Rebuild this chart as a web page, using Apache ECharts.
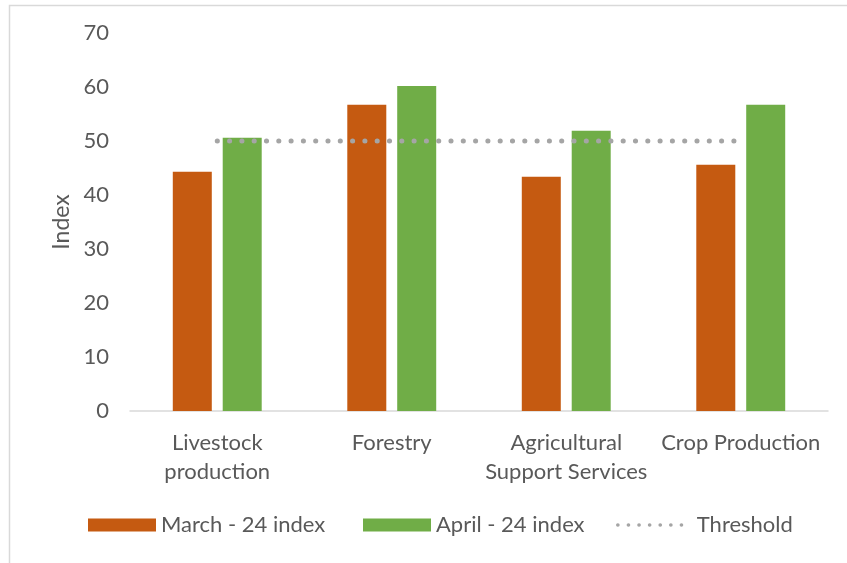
<!DOCTYPE html>
<html>
<head>
<meta charset="utf-8">
<script src="https://cdn.jsdelivr.net/npm/echarts@6/dist/echarts.min.js"></script>
<style>
  html, body { margin: 0; padding: 0; background: #fff; }
  #chart { width: 847px; height: 563px; }
</style>
</head>
<body>
<div id="chart"></div>
<script>
// Sector labels (line breaks are part of the axis text)
const categories = ['Livestock\nproduction', 'Forestry', 'Agricultural\nSupport Services', 'Crop Production'];
const marchIndex = [44.3, 56.7, 43.4, 45.6];
const aprilIndex = [50.6, 60.2, 51.9, 56.7];
const threshold = [50, 50, 50, 50];
const seriesNames = ['March - 24 index', 'April - 24 index', 'Threshold'];
const yTicks = { min: 0, max: 70, step: 10 };

const FONT = 'Lato';
const FS = 22;
const TEXT = '#595959';
const ORANGE = '#c55a11';
const GREEN = '#70ad47';
const GREY = '#a5a5a5';

const chart = echarts.init(document.getElementById('chart'), null, { renderer: 'canvas' });

const legendBase = {
  top: 514,
  padding: 0,
  itemWidth: 68,
  itemHeight: 13,
  textStyle: { fontFamily: FONT, fontSize: FS, color: TEXT }
};

chart.setOption({
  animation: false,
  backgroundColor: '#ffffff',
  textStyle: { fontFamily: FONT, color: TEXT },
  graphic: [{
    type: 'rect',
    shape: { x: 9.5, y: 5.5, width: 900, height: 700 },
    style: { fill: 'none', stroke: '#d9d9d9', lineWidth: 1.5 },
    silent: true
  }],
  grid: { left: 130, right: 19, top: 33, bottom: 152, containLabel: false },
  legend: [
    Object.assign({}, legendBase, {
      left: 88,
      data: [{ name: seriesNames[0], icon: 'rect' }]
    }),
    Object.assign({}, legendBase, {
      left: 363,
      data: [{ name: seriesNames[1], icon: 'rect' }]
    }),
    Object.assign({}, legendBase, {
      left: 616,
      textStyle: { fontFamily: FONT, fontSize: FS, color: TEXT, padding: [0, 0, 0, 6] },
      data: [{
        name: seriesNames[2],
        itemStyle: { color: 'rgba(0,0,0,0)', borderWidth: 0 },
        lineStyle: { color: GREY, width: 3.6, type: [0.1, 10.5], cap: 'round' }
      }]
    })
  ],
  xAxis: {
    type: 'category',
    data: categories,
    axisLine: { lineStyle: { color: '#d9d9d9', width: 1.5 } },
    axisTick: { show: false },
    axisLabel: { color: TEXT, fontFamily: FONT, fontSize: FS, lineHeight: 29, margin: 17, interval: 0 }
  },
  yAxis: {
    type: 'value',
    min: yTicks.min,
    max: yTicks.max,
    interval: yTicks.step,
    name: 'Index',
    nameLocation: 'middle',
    nameGap: 55,
    nameTextStyle: { color: TEXT, fontFamily: FONT, fontSize: 23 },
    axisLine: { show: false },
    axisTick: { show: false },
    splitLine: { show: false },
    axisLabel: { color: TEXT, fontFamily: FONT, fontSize: FS, margin: 21 }
  },
  series: [
    {
      name: seriesNames[0],
      type: 'bar',
      data: marchIndex,
      barWidth: 39,
      barGap: '28%',
      itemStyle: { color: ORANGE }
    },
    {
      name: seriesNames[1],
      type: 'bar',
      data: aprilIndex,
      barWidth: 39,
      barGap: '28%',
      itemStyle: { color: GREEN }
    },
    {
      name: seriesNames[2],
      type: 'line',
      data: threshold,
      symbol: 'none',
      z: 5,
      lineStyle: { color: GREY, width: 5, type: [0.1, 12.2], cap: 'round' },
      itemStyle: { color: GREY }
    }
  ]
});
</script>
</body>
</html>
